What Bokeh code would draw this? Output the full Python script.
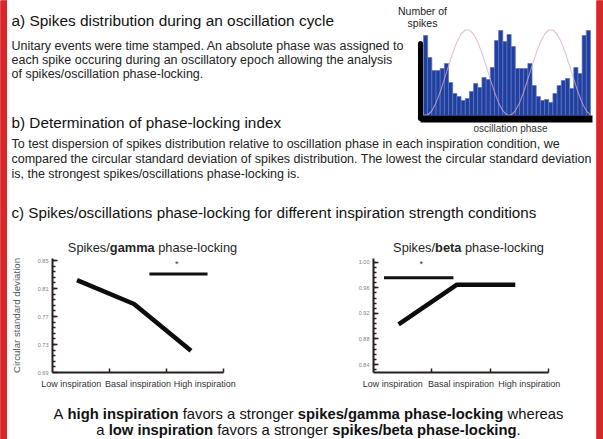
import numpy as np
from bokeh.plotting import figure
from bokeh.models import Range1d, LinearAxis, FixedTicker, ColumnDataSource
from bokeh.layouts import row, column
from bokeh.embed import file_html
from bokeh.resources import INLINE
from bokeh.core.properties import value, field

# ---------------- data ----------------
spike_counts = [80, 58, 45, 45, 47, 52, 33, 22, 19, 15, 17, 24, 32, 28, 38, 36, 48, 75, 85, 74,
                81, 69, 47, 47, 47, 52, 30, 19, 15, 16, 13, 22, 30, 35, 37, 27, 48, 42, 80, 85]
oscillation_trace = [0.5, 0.5, 4.7, 12.6, 23.5, 36.3, 49.7, 62.5, 73.4, 81.3, 85.5, 85.5, 81.3,
                     73.4, 62.5, 49.7, 36.3, 23.5, 12.6, 4.7, 0.5, 0.5, 4.7, 12.6, 23.5, 36.3,
                     49.7, 62.5, 73.4, 81.3, 85.5, 85.5, 81.3, 73.4, 62.5, 49.7, 36.3, 23.5,
                     12.6, 4.7, 0.5]
conditions = ["Low inspiration", "Basal inspiration", "High inspiration"]
gamma_csd = [0.822, 0.788, 0.721]
beta_csd = [0.903, 0.965, 0.965]
gamma_ticks = [0.69, 0.73, 0.77, 0.81, 0.85]
beta_ticks = [0.84, 0.88, 0.92, 0.96, 1.00]
gamma_signif = [1.70, 2.72, 0.831]   # x from, x to, level
beta_signif = [0.18, 1.37, 0.976]
gamma_star = [2.18, 0.845]
beta_star = [0.82, 0.997]

# ---------------- style ----------------
FONT = "Liberation Sans"
BG = "#ffffff"
RED = "#d9262b"
INK = "#1a1a1a"
AX = "#2a1e1e"

REG = {' ': 278, '!': 278, '.': 278, ',': 278, '/': 278, '-': 333, '(': 333, ')': 333, '*': 389,
       'A': 667, 'B': 667, 'C': 722, 'D': 722, 'E': 667, 'F': 611, 'G': 778, 'H': 722, 'I': 278,
       'J': 500, 'K': 667, 'L': 556, 'M': 833, 'N': 722, 'O': 778, 'P': 667, 'Q': 778, 'R': 722,
       'S': 667, 'T': 611, 'U': 722, 'V': 667, 'W': 944, 'X': 667, 'Y': 667, 'Z': 611,
       'a': 556, 'b': 556, 'c': 500, 'd': 556, 'e': 556, 'f': 278, 'g': 556, 'h': 556, 'i': 222,
       'j': 222, 'k': 500, 'l': 222, 'm': 833, 'n': 556, 'o': 556, 'p': 556, 'q': 556, 'r': 333,
       's': 500, 't': 278, 'u': 556, 'v': 500, 'w': 722, 'x': 500, 'y': 500, 'z': 500}
BOLD = {' ': 278, '.': 278, ',': 278, '/': 278, '-': 333,
        'a': 556, 'b': 611, 'c': 556, 'd': 611, 'e': 556, 'f': 333, 'g': 611, 'h': 611, 'i': 278,
        'j': 278, 'k': 556, 'l': 278, 'm': 889, 'n': 611, 'o': 611, 'p': 611, 'q': 611, 'r': 389,
        's': 556, 't': 333, 'u': 611, 'v': 556, 'w': 778, 'x': 556, 'y': 556, 'z': 500}


def tw(s, bold, size):
    t = BOLD if bold else REG
    return sum(t.get(c, 556) for c in s) * size / 1000.0


def base_fig(w, h, **kw):
    p = figure(width=w, height=h, output_backend="svg", toolbar_location=None,
               x_axis_location=None, y_axis_location=None, **kw)
    p.grid.visible = False
    p.outline_line_color = None
    p.background_fill_color = BG
    p.border_fill_color = BG
    return p


class Canvas:
    def __init__(self, w, h, **kw):
        self.p = base_fig(w, h, x_range=Range1d(0, w), y_range=Range1d(h, 0), min_border=0, **kw)
        self.items = dict(x=[], y=[], text=[], size=[], style=[], color=[], align=[])

    def add(self, x, y, text, size, bold=False, color=INK, align="left"):
        self.items["x"].append(x)
        self.items["y"].append(y)
        self.items["text"].append(text)
        self.items["size"].append(f"{size}px")
        self.items["style"].append("bold" if bold else "normal")
        self.items["color"].append(color)
        self.items["align"].append(align)

    def rich(self, x, y, segs, size, color=INK, align="left"):
        total = sum(tw(t, b, size) for t, b in segs)
        cx = x - total / 2 if align == "center" else x
        for t, b in segs:
            lead = len(t) - len(t.lstrip(" "))
            s = t.strip(" ")
            if s:
                self.add(cx + tw(" " * lead, b, size), y, s, size, b, color)
            cx += tw(t, b, size)

    def finish(self):
        self.p.text(x="x", y="y", text="text", source=ColumnDataSource(self.items),
                    text_font=value(FONT), text_font_size=field("size"),
                    text_font_style=field("style"), text_color=field("color"),
                    text_align=field("align"), text_baseline="middle")
        return self.p


def red_strip(w, h):
    p = base_fig(w, h, x_range=Range1d(0, 1), y_range=Range1d(0, 1), min_border=0)
    p.background_fill_color = RED
    p.border_fill_color = RED
    p.quad(left=[0], right=[1], bottom=[0], top=[1], fill_color=RED, line_color=RED)
    return p


PS = 12.5

# ---------------- top block: section a, histogram, section b title ----------------
# the histogram has its own scales: one bar per unit on x, one count per pixel on y
top = Canvas(589, 134,
             extra_x_ranges={"hx": Range1d(-99.64, 41.44)},
             extra_y_ranges={"hy": Range1d(-19, 115)})
tp = top.p
n = len(spike_counts)
tp.quad(left=list(range(n)), right=[i + 1 for i in range(n)], bottom=0, top=spike_counts,
        fill_color="#21409e", line_color="#5b76c6", line_width=0.7,
        x_range_name="hx", y_range_name="hy")
tp.line(x=list(range(len(oscillation_trace))), y=oscillation_trace,
        line_color="#dcaacd", line_width=1.1, line_alpha=0.75,
        x_range_name="hx", y_range_name="hy")
# thick black axis lines of the histogram
tp.segment(x0=[-0.72], y0=[-3], x1=[-0.72], y1=[72], line_width=5, line_color="black",
           line_cap="round", x_range_name="hx", y_range_name="hy")
tp.segment(x0=[-0.72], y0=[-3.5], x1=[40.48], y1=[-3.5], line_width=7, line_color="black",
           x_range_name="hx", y_range_name="hy")

top.add(4, 20, "a) Spikes distribution during an oscillation cycle", 15.4, color="#111111")
top.add(415, 10.5, "Number of", 10.5, color="#222222", align="center")
top.add(415, 22.5, "spikes", 10.5, color="#222222", align="center")
top.add(4, 45, "Unitary events were time stamped. An absolute phase was assigned to", PS, color="#222222")
top.add(4, 59, "each spike occuring during an oscillatory epoch allowing the analysis", PS, color="#222222")
top.add(4, 73, "of spikes/oscillation phase-locking.", PS, color="#222222")
top.add(4, 122, "b) Determination of phase-locking index", 15.3, color="#111111")
top.add(503, 128, "oscillation phase", 10, color="#333333", align="center")

# ---------------- middle text ----------------
mid = Canvas(589, 122)
mid.add(4, 9, "To test dispersion of spikes distribution relative to oscillation phase in each inspiration condition, we", PS, color="#222222")
mid.add(4, 24, "compared the circular standard deviation of spikes distribution. The lowest the circular standard deviation", PS, color="#222222")
mid.add(4, 39, "is, the strongest spikes/oscillations phase-locking is.", PS, color="#222222")
mid.add(4, 78, "c) Spikes/oscillations phase-locking for different inspiration strength conditions", 15.2, color="#111111")
mid.rich(145, 113, [("Spikes/", False), ("gamma", True), (" phase-locking", False)], 12.8,
         color="#262626", align="center")
mid.rich(461, 113, [("Spikes/", False), ("beta", True), (" phase-locking", False)], 12.8,
         color="#262626", align="center")

# ---------------- charts ----------------
label_pos = [0.33, 1.5, 2.67]
xs = [i + 0.43 for i in range(len(conditions))]


def chart(w, left, right, yr, ticks, vals, sig, star, ylabel=None):
    p = base_fig(w, 136, x_range=Range1d(0, 3), y_range=Range1d(*yr),
                 min_border_left=left, min_border_right=right,
                 min_border_top=2, min_border_bottom=20)
    step = (ticks[1] - ticks[0]) / 5
    k0 = int(np.floor((yr[0] - ticks[0]) / step + 1e-9)) + 1
    k1 = int(np.floor((yr[1] - ticks[0]) / step + 1e-9))
    minor = [round(ticks[0] + k * step, 5) for k in range(k0, k1 + 1)]
    ya = LinearAxis(ticker=FixedTicker(ticks=ticks, minor_ticks=minor),
                    major_label_overrides={t: f"{t:.2f}" for t in ticks},
                    axis_line_width=2, axis_line_color=AX,
                    major_tick_in=5, major_tick_out=0, major_tick_line_width=1.5,
                    major_tick_line_color=AX,
                    minor_tick_in=3, minor_tick_out=0, minor_tick_line_width=1.5,
                    minor_tick_line_color=AX,
                    major_label_text_font=FONT, major_label_text_font_size="5.5px",
                    major_label_text_color="#808080", major_label_standoff=4)
    if ylabel:
        ya.axis_label = ylabel
        ya.axis_label_text_font = FONT
        ya.axis_label_text_font_size = "9.7px"
        ya.axis_label_text_font_style = "normal"
        ya.axis_label_text_color = "#555555"
        ya.axis_label_standoff = 13
    p.add_layout(ya, "left")
    xa = LinearAxis(ticker=FixedTicker(ticks=label_pos, minor_ticks=[1, 2, 3]),
                    major_label_overrides=dict(zip(label_pos, conditions)),
                    axis_line_width=2, axis_line_color=AX,
                    major_tick_in=0, major_tick_out=0,
                    minor_tick_in=4, minor_tick_out=0, minor_tick_line_width=1.5,
                    minor_tick_line_color=AX,
                    major_label_text_font=FONT, major_label_text_font_size="9px",
                    major_label_text_color="#333333", major_label_standoff=6)
    p.add_layout(xa, "below")
    p.line(xs, vals, line_width=4.5, line_color="#0d0d0d")
    p.segment(x0=[sig[0]], y0=[sig[2]], x1=[sig[1]], y1=[sig[2]], line_width=3,
              line_color="#111111")
    p.text(x=[star[0]], y=[star[1]], text=["*"], text_font=value(FONT),
           text_font_size="9px", text_align="center", text_baseline="middle",
           text_color="#333333")
    return p


gamma = chart(301, 42, 85, (0.69, 0.853), gamma_ticks, gamma_csd, gamma_signif, gamma_star,
              ylabel="Circular standard deviation")
beta = chart(288, 65, 48, (0.8275, 1.006), beta_ticks, beta_csd, beta_signif, beta_star)

# ---------------- conclusion ----------------
bottom = Canvas(589, 47)
bottom.rich(301, 21, [("A ", False), ("high inspiration", True), (" favors a stronger ", False),
                      ("spikes/gamma phase-locking", True), (" whereas", False)], 14.8,
            color="#111111", align="center")
bottom.rich(301, 37, [("a ", False), ("low inspiration", True), (" favors a stronger ", False),
                      ("spikes/beta phase-locking", True), (".", False)], 14.8,
            color="#111111", align="center")

inner = column(top.finish(),
               mid.finish(),
               row(gamma, beta),
               bottom.finish())
layout = row(red_strip(7, 439), inner, red_strip(7, 439))

open("out.html", "w").write(file_html(layout, INLINE, title="Spikes phase-locking"))
